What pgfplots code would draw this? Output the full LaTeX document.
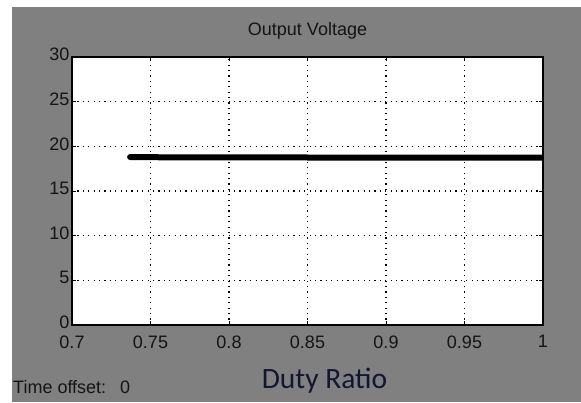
\documentclass[border=0pt]{standalone}
\usepackage{pgfplots}
\pgfplotsset{compat=1.18}
\usepackage{fontspec}
\setmainfont{Liberation Sans}
\newfontfamily\calibri{Carlito}
\definecolor{bggray}{HTML}{808080}
\definecolor{txt}{HTML}{141414}
\definecolor{navy}{HTML}{111633}
\begin{document}
\begin{tikzpicture}
\fill[white] (0,0) rectangle (581pt,402pt);
\fill[bggray] (12pt,0) rectangle (581pt,395pt);
\begin{axis}[
  at={(72pt,77pt)}, anchor=south west,
  scale only axis, width=471pt, height=268pt,
  xmin=0.7, xmax=1, ymin=0, ymax=30,
  xtick={0.7,0.75,0.8,0.85,0.9,0.95,1},
  ytick={0,5,10,15,20,25,30},
  xticklabels={0.7,0.75,0.8,0.85,0.9,0.95,1},
  yticklabels={0,5,10,15,20,25,30},
  axis background/.style={fill=white},
  axis line style={black, line width=1.3pt},
  tick style={black, line width=1pt},
  tick align=inside, major tick length=4pt,
  grid=major,
  major grid style={black, line width=1.1pt, dash pattern=on 1.2pt off 4.2pt},
  /pgf/number format/assume math mode=true,
  ticklabel style={font=\fontsize{18}{21}\selectfont, text=txt},
  xticklabel style={yshift=-7pt},
  yticklabel style={xshift=1pt, yshift=2.5pt},
  title={Output Voltage},
  title style={font=\fontsize{18}{21}\selectfont, text=txt, at={(0.5,1)}, anchor=center, yshift=20pt},
]
\addplot[black, line width=6pt, line cap=round, mark=none] coordinates {
 (0.737,18.8) (0.75,18.78) (0.8,18.76) (0.85,18.75) (0.9,18.74) (0.95,18.74) (1,18.74)
};
\end{axis}
\node[anchor=west, font=\fontsize{18}{21}\selectfont, text=txt, inner sep=0pt] at (13pt,15pt) {Time offset:\hspace{14pt}0};
\node[anchor=center, font=\calibri\fontsize{29.5}{33}\selectfont, text=navy, inner sep=0pt] at (324.5pt,21pt) {Duty Ratio};
\end{tikzpicture}
\end{document}
